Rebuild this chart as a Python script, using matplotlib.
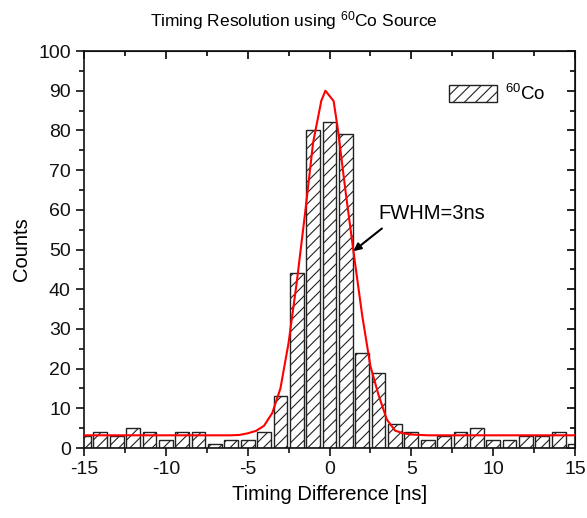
import matplotlib
matplotlib.use("Agg")
import matplotlib.pyplot as plt
from matplotlib.ticker import MultipleLocator
import numpy as np

plt.rcParams["font.family"] = ["Liberation Sans", "DejaVu Sans"]
plt.rcParams["mathtext.fontset"] = "custom"
plt.rcParams["mathtext.rm"] = "Liberation Sans"
plt.rcParams["mathtext.it"] = "Liberation Sans:italic"
plt.rcParams["axes.unicode_minus"] = False
plt.rcParams["hatch.linewidth"] = 0.8

# histogram of timing differences (ns)
bin_centers = np.arange(-15, 16)
counts = [3, 4, 3, 5, 4, 2, 4, 4, 1, 2, 2, 4, 13, 44, 80, 82,
          79, 24, 19, 6, 4, 2, 3, 4, 5, 2, 2, 3, 3, 4, 1]

# gaussian fit curve
fit_x = [-15, -6, -5.5, -5, -4.5, -4, -3.5, -3, -2.5, -2, -1.5, -1, -0.5,
         -0.25, 0.25, 0.5, 1, 1.5, 2, 2.5, 3, 3.5, 4, 4.5, 5, 5.5, 6, 15]
fit_y = [3.2, 3.2, 3.3, 3.7, 4.3, 5.6, 8.8, 15, 26.5, 41.8, 58.9, 77, 87.5,
         90, 87.4, 80.6, 64, 48.4, 33.3, 20.6, 13.3, 7.2, 4.4, 3.7, 3.4, 3.3, 3.2, 3.2]

fig = plt.figure(figsize=(5.87, 5.18), dpi=100)
ax = fig.add_axes([0.1431, 0.1351, 0.8365, 0.7664])

ax.bar(bin_centers, counts, width=0.84, color="white", edgecolor="#222222",
       linewidth=1.0, hatch="///", label="$^{60}$Co", zorder=2)
ax.plot(fit_x, fit_y, color="red", lw=1.5, zorder=3)

# FWHM label with arrow pointing at the fit curve
ax.text(3.0, 59.0, "FWHM=3ns", fontsize=14.5, va="center", ha="left")
ax.annotate("", xy=(1.46, 49.6), xytext=(3.2, 55.3),
            arrowprops=dict(arrowstyle="-|>", color="black", lw=1.5,
                            mutation_scale=11, shrinkA=0, shrinkB=0))

ax.set_xlim(-15, 15)
ax.set_ylim(0, 100)
ax.xaxis.set_major_locator(MultipleLocator(5))
ax.xaxis.set_minor_locator(MultipleLocator(2.5))
ax.yaxis.set_major_locator(MultipleLocator(10))
ax.yaxis.set_minor_locator(MultipleLocator(5))

ax.tick_params(which="both", direction="out", top=False, right=False,
               labelsize=14, width=1.2, colors="#111111")
ax.tick_params(which="major", length=6)
ax.tick_params(which="minor", length=3.5)

# mirrored ticks on top and right, pointing inward
sec_x = ax.secondary_xaxis("top")
sec_x.xaxis.set_major_locator(MultipleLocator(5))
sec_x.xaxis.set_minor_locator(MultipleLocator(2.5))
sec_x.tick_params(which="both", direction="in", labeltop=False, width=1.2)
sec_x.tick_params(which="major", length=6)
sec_x.tick_params(which="minor", length=3.5)
sec_y = ax.secondary_yaxis("right")
sec_y.yaxis.set_major_locator(MultipleLocator(10))
sec_y.yaxis.set_minor_locator(MultipleLocator(5))
sec_y.tick_params(which="both", direction="in", labelright=False, width=1.2)
sec_y.tick_params(which="major", length=6)
sec_y.tick_params(which="minor", length=3.5)

for sp in ax.spines.values():
    sp.set_linewidth(1.2)
    sp.set_color("#111111")

ax.set_xlabel("Timing Difference [ns]", fontsize=14.5, labelpad=5)
ax.set_ylabel("Counts", fontsize=14.5, labelpad=5)
fig.text(0.5, 0.96, "Timing Resolution using $^{60}$Co Source",
         ha="center", va="center", fontsize=12.5)

ax.legend(loc="upper right", bbox_to_anchor=(0.975, 0.96), frameon=False,
          fontsize=13.5, handlelength=2.55, handleheight=1.05, handletextpad=0.45)

fig.savefig("out.png", dpi=100)
